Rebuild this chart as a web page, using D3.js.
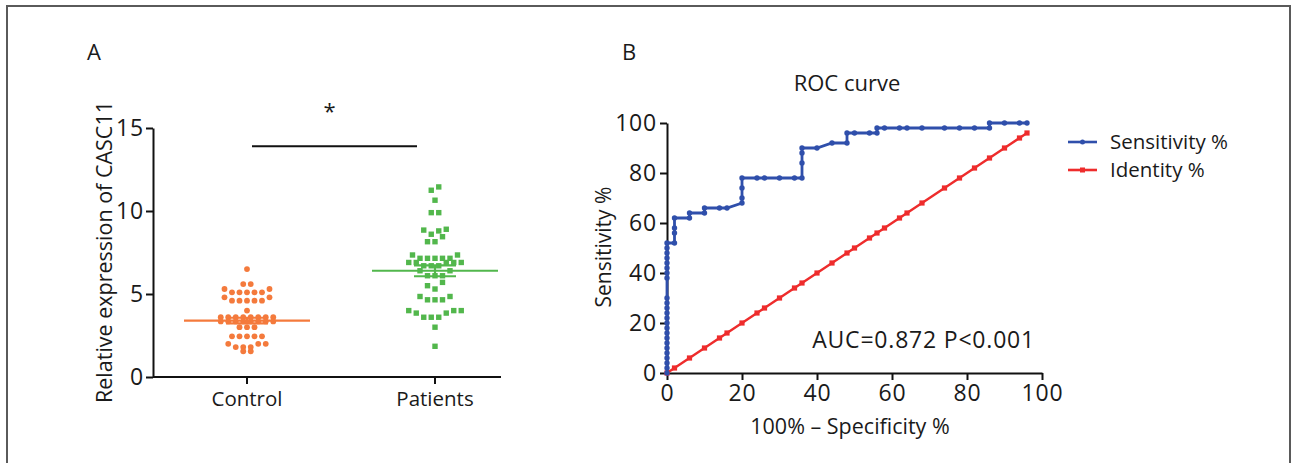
<!DOCTYPE html>
<html>
<head>
<meta charset="utf-8">
<script src="https://cdn.jsdelivr.net/npm/d3@7"></script>
<style>
  body { margin: 0; background: #fff; }
  svg text { font-family: "Open Sans", sans-serif; fill: #1a1a1a; }
  .axis path, .axis line { stroke: #111; stroke-width: 2; }
  .axis text { font-family: "Open Sans", sans-serif; font-size: 23px; letter-spacing: 0.8px; fill: #1a1a1a; }
</style>
</head>
<body>
<svg width="1294" height="463"></svg>
<script>
// panel A data
var groups = ['Control', 'Patients'];
var controlValues = [6.5, 5.6, 5.6, 5.3, 5.3, 5.1, 5.1, 5.1, 5.1, 5.1,
  4.8, 4.8, 4.6, 4.6, 4.6, 4.6, 4.6, 4.0,
  3.6, 3.6, 3.6, 3.6, 3.6, 3.6, 3.6, 3.6,
  3.35, 3.35, 3.35, 3.35, 3.35, 3.35, 3.35, 3.35,
  3.0, 3.0, 3.0, 2.45, 2.45, 2.45, 2.45, 2.45,
  2.0, 2.0, 2.0, 1.8, 1.8, 1.8, 1.55, 1.55];
var patientValues = [11.45, 11.25, 10.65, 9.9, 9.9,
  8.9, 8.85, 8.8, 8.6, 8.45, 8.15, 8.15,
  7.35, 7.35, 7.15, 7.15, 7.15, 7.15, 7.15,
  6.9, 6.9, 6.9, 6.9, 6.9, 6.7, 6.7, 6.7,
  6.4, 6.4, 6.1, 6.1, 6.1,
  5.7, 5.5, 5.3, 4.85, 4.85, 4.65, 4.65, 4.65,
  4.0, 4.0, 4.0, 3.85, 3.85, 3.6, 3.6, 3.6, 3.0, 1.85];
var groupMeans = [3.4, 6.4];
var groupSems = [0.17, 0.33];
var yTicksA = [0, 5, 10, 15];
var sigLevel = 13.9;

// panel B data
var rocFpr = [0, 0, 0, 0, 0, 0, 0, 0, 0, 0, 0, 0, 0, 0, 0, 0,
  0, 0, 0, 0, 0, 0, 0, 0,
  2, 2, 2, 2, 6, 6, 10, 10, 14, 16, 20, 20, 20, 20,
  24, 26, 30, 34, 36, 36, 36, 36, 40, 44, 48, 48, 50, 54, 56, 56,
  58, 62, 64, 68, 74, 78, 82, 86, 86, 90, 94, 96];
var rocSens = [0, 2, 4, 6, 8, 10, 12, 14, 16, 18, 20, 22, 24, 26, 28, 30,
  38, 40, 42, 44, 46, 48, 50, 52,
  52, 56, 58, 62, 62, 64, 64, 66, 66, 66, 68, 70, 74, 78,
  78, 78, 78, 78, 78, 84, 88, 90, 90, 92, 92, 96, 96, 96, 96, 98,
  98, 98, 98, 98, 98, 98, 98, 98, 100, 100, 100, 100];
var identityPct = [0, 2, 6, 10, 14, 16, 20, 24, 26, 30, 34, 36, 40, 44, 48,
  50, 54, 56, 58, 62, 64, 68, 74, 78, 82, 86, 90, 94, 96];
var ticksB = [0, 20, 40, 60, 80, 100];
var legendNames = ['Sensitivity %', 'Identity %'];

var orange = '#f47a3c', green = '#52b74c', blue = '#2f4fab', red = '#ee2c2c';

var svg = d3.select('svg');

svg.append('rect')
  .attr('x', 7).attr('y', 6)
  .attr('width', 1283).attr('height', 470)
  .attr('fill', 'none')
  .attr('stroke', '#5a5a5a')
  .attr('stroke-width', 2);

// ---------- panel A ----------
var xA = d3.scaleBand().domain(groups).range([153, 529]);
var yA = d3.scaleLinear().domain([0, 15]).range([377, 128]);
var axisEndA = 501;

svg.append('text')
  .attr('x', 87).attr('y', 60)
  .style('font-size', '22px')
  .text('A');

svg.append('g')
  .attr('class', 'axis')
  .attr('transform', 'translate(153,0)')
  .call(d3.axisLeft(yA).tickValues(yTicksA).tickSize(7).tickSizeOuter(0).tickPadding(2));

var xAxisA = svg.append('g')
  .attr('class', 'axis')
  .attr('transform', 'translate(0,377)')
  .call(d3.axisBottom(xA).tickSize(7).tickSizeOuter(0).tickPadding(7));
xAxisA.selectAll('text').style('font-size', '20.5px').style('letter-spacing', '0px');
// the axis line stops short of the band range end
xAxisA.select('.domain').attr('d', 'M153,0H' + axisEndA);

svg.append('text')
  .attr('transform', 'translate(112,252) rotate(-90)')
  .attr('text-anchor', 'middle')
  .style('font-size', '21.5px')
  .text('Relative expression of CASC11');

// rows of near-equal values spread sideways, lowest in the middle
function swarmRows(values, binSize) {
  var sorted = values.slice().sort(d3.descending),
      rows = [],
      row = null,
      out = [];
  sorted.forEach(function(v) {
    if (!row || row.start - v > binSize) {
      row = {start: v, items: []};
      rows.push(row);
    }
    row.items.push(v);
  });
  rows.forEach(function(r) {
    var n = r.items.length,
        slots = d3.range(n).map(function(i) { return i - (n - 1) / 2; });
    slots.sort(function(a, b) { return Math.abs(a) - Math.abs(b) || a - b; });
    r.items.slice().sort(d3.ascending).forEach(function(v, i) {
      out.push({value: v, slot: slots[i]});
    });
  });
  return out;
}

var step = 7.5;

svg.append('g').selectAll('circle')
  .data(swarmRows(controlValues, 0.22))
  .enter().append('circle')
    .attr('cx', function(d) { return xA.bandwidth() / 2 + xA('Control') + d.slot * step; })
    .attr('cy', function(d) { return yA(d.value); })
    .attr('r', 2.9)
    .attr('fill', orange);

svg.append('g').selectAll('rect')
  .data(swarmRows(patientValues, 0.42))
  .enter().append('rect')
    .attr('x', function(d) { return xA.bandwidth() / 2 + xA('Patients') + d.slot * step - 2.7; })
    .attr('y', function(d) { return yA(d.value) - 2.7; })
    .attr('width', 5.4)
    .attr('height', 5.4)
    .attr('fill', green);

// mean and SEM lines
groups.forEach(function(g, i) {
  var cx = xA(g) + xA.bandwidth() / 2,
      col = i == 0 ? orange : green,
      m = groupMeans[i],
      s = groupSems[i];
  var gg = svg.append('g').attr('stroke', col).attr('stroke-width', 2.2);
  gg.append('line')
    .attr('x1', cx - 63).attr('x2', cx + 63)
    .attr('y1', yA(m)).attr('y2', yA(m));
  [m - s, m + s].forEach(function(v) {
    gg.append('line')
      .attr('x1', cx - 21).attr('x2', cx + 21)
      .attr('y1', yA(v)).attr('y2', yA(v));
  });
  gg.append('line')
    .attr('x1', cx).attr('x2', cx)
    .attr('y1', yA(m - s)).attr('y2', yA(m + s));
});

// significance bar
var barX1 = xA('Control') + xA.bandwidth() / 2 + 5,
    barX2 = xA('Patients') + xA.bandwidth() / 2 - 18;
svg.append('line')
  .attr('x1', barX1).attr('x2', barX2)
  .attr('y1', yA(sigLevel)).attr('y2', yA(sigLevel))
  .attr('stroke', '#111')
  .attr('stroke-width', 2.2);
svg.append('text')
  .attr('x', (barX1 + barX2) / 2 - 5)
  .attr('y', yA(sigLevel) - 27)
  .attr('text-anchor', 'middle')
  .style('font-size', '22px')
  .text('*');

// ---------- panel B ----------
var xB = d3.scaleLinear().domain([0, 100]).range([667, 1042]);
var yB = d3.scaleLinear().domain([0, 100]).range([373, 123]);

svg.append('text')
  .attr('x', 622).attr('y', 60)
  .style('font-size', '22px')
  .text('B');

svg.append('text')
  .attr('x', 847).attr('y', 91)
  .attr('text-anchor', 'middle')
  .style('font-size', '22px')
  .text('ROC curve');

svg.append('g')
  .attr('class', 'axis')
  .attr('transform', 'translate(667,0)')
  .call(d3.axisLeft(yB).tickValues(ticksB).tickSize(7).tickSizeOuter(0).tickPadding(3));

svg.append('g')
  .attr('class', 'axis')
  .attr('transform', 'translate(0,373)')
  .call(d3.axisBottom(xB).tickValues(ticksB).tickSize(7).tickSizeOuter(0).tickPadding(5));

svg.append('text')
  .attr('x', 850).attr('y', 434)
  .attr('text-anchor', 'middle')
  .style('font-size', '21.5px')
  .text('100% \u2013 Specificity %');

svg.append('text')
  .attr('transform', 'translate(611,247) rotate(-90)')
  .attr('text-anchor', 'middle')
  .style('font-size', '21px')
  .text('Sensitivity %');

var rocPts = rocFpr.map(function(f, i) { return {x: f, y: rocSens[i]}; });
var idPts = identityPct.map(function(v) { return {x: v, y: v}; });

var line = d3.line()
  .x(function(d) { return xB(d.x); })
  .y(function(d) { return yB(d.y); });

svg.append('path')
  .datum(idPts)
  .attr('d', line)
  .attr('fill', 'none')
  .attr('stroke', red)
  .attr('stroke-width', 2.4);

svg.append('g').selectAll('rect')
  .data(idPts)
  .enter().append('rect')
    .attr('x', function(d) { return xB(d.x) - 2.6; })
    .attr('y', function(d) { return yB(d.y) - 2.6; })
    .attr('width', 5.2)
    .attr('height', 5.2)
    .attr('fill', red);

svg.append('path')
  .datum(rocPts)
  .attr('d', line)
  .attr('fill', 'none')
  .attr('stroke', blue)
  .attr('stroke-width', 2.8);

svg.append('g').selectAll('circle')
  .data(rocPts)
  .enter().append('circle')
    .attr('cx', function(d) { return xB(d.x); })
    .attr('cy', function(d) { return yB(d.y); })
    .attr('r', 2.7)
    .attr('fill', blue);

svg.append('text')
  .attr('x', 1035).attr('y', 348)
  .attr('text-anchor', 'end')
  .style('font-size', '23px')
  .style('letter-spacing', '0.8px')
  .text('AUC=0.872 P<0.001');

// legend
var legend = svg.append('g').selectAll('g')
  .data(legendNames)
  .enter().append('g')
    .attr('transform', function(d, i) { return 'translate(1068,' + (142 + i * 28) + ')'; });

legend.append('line')
  .attr('x1', 0).attr('x2', 29)
  .attr('stroke', function(d, i) { return i == 0 ? blue : red; })
  .attr('stroke-width', 2.6);

legend.append('rect')
  .attr('x', 12).attr('y', -2.5)
  .attr('width', 5).attr('height', 5)
  .attr('rx', function(d, i) { return i == 0 ? 2.5 : 0; })
  .attr('fill', function(d, i) { return i == 0 ? blue : red; });

legend.append('text')
  .attr('x', 42).attr('y', 7)
  .style('font-size', '20.5px')
  .text(function(d) { return d; });
</script>
</body>
</html>
